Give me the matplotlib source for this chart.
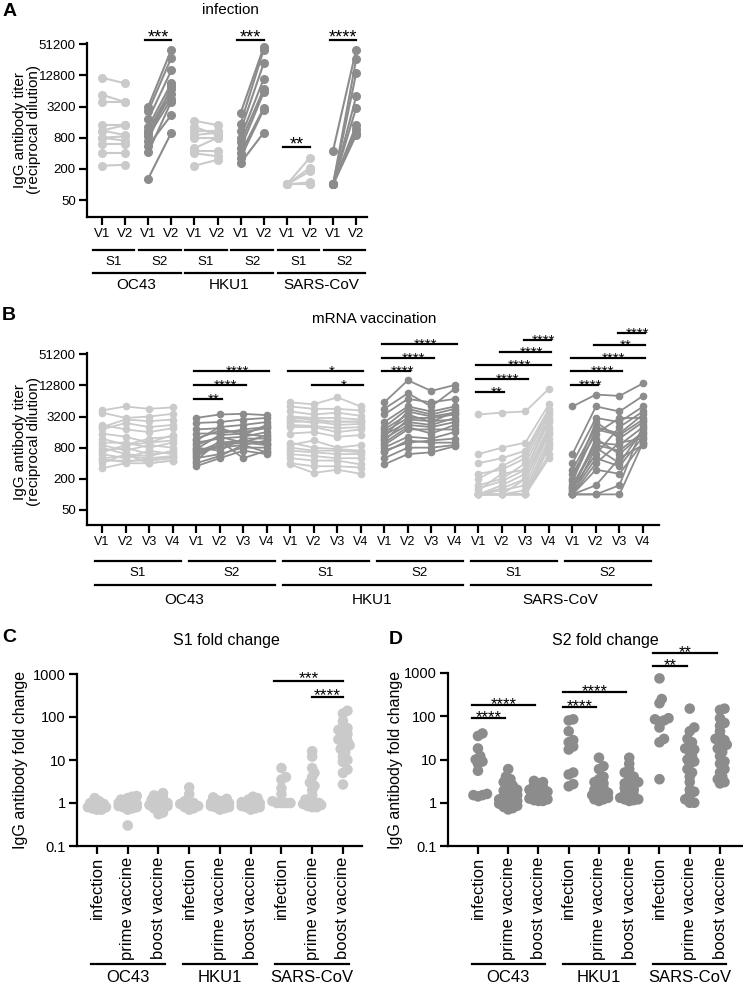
import numpy as np
import matplotlib
matplotlib.use("Agg")
import matplotlib.pyplot as plt
from matplotlib.ticker import NullLocator

plt.rcParams['font.family'] = ['Liberation Sans', 'DejaVu Sans']

LIGHT = '#cacaca'
DARK = '#8c8c8c'

# ---------------- data: panel A (infection, V1 -> V2) ----------------
A_oc43_s1_v1 = [11500, 5400, 4000, 1400, 1100, 1100, 800, 800, 600, 400, 230]
A_oc43_s1_v2 = [9000, 3900, 4000, 1400, 1400, 900, 850, 700, 600, 400, 240]
A_oc43_s2_v1 = [3200, 2600, 1800, 1300, 1100, 1000, 850, 700, 560, 420, 130]
A_oc43_s2_v2 = [40000, 28000, 16000, 9000, 7000, 5500, 4500, 8000, 2200, 4000, 1000]
A_hku1_s1_v1 = [1700, 1300, 1100, 900, 800, 500, 450, 400, 230]
A_hku1_s1_v2 = [1400, 900, 1100, 1000, 800, 800, 450, 350, 300]
A_hku1_s2_v1 = [2400, 1500, 1100, 800, 650, 500, 400, 330, 260]
A_hku1_s2_v2 = [45000, 40000, 22000, 11000, 7000, 6000, 3000, 2800, 1000]
A_sars_s1_v1 = [100, 100, 100, 100, 100, 100]
A_sars_s1_v2 = [330, 210, 180, 110, 100, 100]
A_sars_s2_v1 = [450, 100, 100, 100, 100, 100, 100, 100, 100]
A_sars_s2_v2 = [40000, 26000, 14000, 5000, 3000, 1400, 1200, 1000, 900]

# ---------------- data: panel B (mRNA vaccination, V1..V4) ----------------
B_oc43_s1 = [[4200, 3800, 2000, 1800, 1500, 1200, 1000, 900, 800, 700, 600, 500, 450, 400, 320, 2200, 650, 480],
             [5000, 3000, 2800, 2400, 1300, 900, 1000, 700, 600, 800, 500, 550, 450, 600, 400, 1800, 900, 420],
             [4500, 3200, 2600, 2000, 1000, 1200, 800, 900, 550, 600, 700, 500, 450, 400, 400, 1600, 1000, 500],
             [4800, 3600, 2800, 2200, 1400, 1300, 1000, 800, 700, 650, 600, 550, 500, 450, 450, 1900, 1100, 520]]
B_oc43_s2 = [[3000, 2400, 1800, 1500, 1200, 1000, 900, 800, 700, 650, 600, 500, 450, 400, 350, 1100, 750, 550],
             [3500, 2500, 1900, 1500, 1700, 1200, 1300, 700, 800, 1000, 900, 600, 1100, 550, 500, 2000, 1400, 900],
             [3600, 2800, 1400, 1800, 1600, 1300, 1000, 1200, 900, 1100, 1000, 800, 500, 900, 700, 2200, 1500, 1100],
             [3400, 3000, 2200, 2000, 1900, 1600, 1400, 1200, 1100, 1000, 900, 800, 700, 650, 600, 2500, 1300, 950]]
B_hku1_s1 = [[6000, 5000, 4000, 3200, 3000, 2500, 2000, 1500, 900, 800, 700, 600, 500, 400, 380, 2800, 2200, 1000],
             [5500, 4500, 3500, 3000, 2800, 2600, 2000, 1600, 1100, 700, 650, 550, 450, 350, 260, 2400, 2100, 800],
             [7500, 4500, 3800, 3000, 2500, 2200, 1600, 1300, 800, 700, 600, 500, 450, 350, 300, 2600, 1900, 750],
             [5000, 4200, 3300, 2800, 2600, 2300, 1800, 1400, 900, 650, 600, 500, 380, 330, 250, 2500, 2000, 700]]
B_hku1_s2 = [[6000, 4500, 3500, 2500, 2000, 1800, 1600, 1400, 1200, 1000, 900, 800, 700, 500, 380, 1300, 1100, 650],
             [16000, 9000, 7000, 5000, 4500, 3500, 3000, 2500, 2200, 2000, 1800, 1300, 1000, 800, 600, 4000, 2800, 1100],
             [10000, 5000, 6000, 4000, 3500, 2500, 3000, 2200, 2000, 1500, 1800, 1200, 1100, 800, 650, 3200, 2600, 1000],
             [13000, 11000, 7000, 5000, 4500, 4000, 3500, 3000, 2500, 2200, 1800, 1600, 1200, 900, 850, 3800, 2800, 1000]]
B_sars_s1 = [[3500, 600, 400, 250, 150, 120, 100, 100, 100, 100, 100, 100, 100, 100, 100, 200, 130, 100],
             [3800, 800, 500, 300, 200, 250, 150, 100, 120, 100, 100, 100, 100, 100, 100, 350, 180, 130],
             [4000, 1000, 700, 500, 400, 300, 250, 200, 150, 120, 100, 100, 100, 100, 100, 600, 300, 200],
             [11000, 5500, 4500, 3500, 3000, 2500, 2000, 1800, 1500, 1200, 1000, 900, 800, 600, 500, 4000, 2800, 1600]]
B_sars_s2 = [[5000, 600, 400, 300, 250, 200, 150, 130, 120, 100, 100, 100, 100, 100, 100, 180, 140, 110],
             [8500, 5000, 3000, 2000, 1500, 2500, 1000, 600, 1200, 400, 800, 300, 150, 100, 100, 1800, 900, 500],
             [8000, 4000, 2500, 1500, 3000, 1200, 900, 2000, 600, 1000, 400, 250, 500, 150, 100, 1400, 700, 350],
             [14000, 8000, 5000, 3500, 3000, 2500, 2000, 4000, 1500, 1200, 1800, 1000, 900, 2200, 1000, 2800, 1600, 1300]]

# ---------------- data: panels C / D (fold change) ----------------
C_vals = [
    [1.3, 1.1, 1.0, 0.95, 0.9, 0.85, 0.8, 0.8, 0.75, 0.7, 0.7],
    [1.45, 1.4, 1.3, 1.2, 1.1, 1.05, 1.0, 1.0, 0.95, 0.95, 0.9, 0.9, 0.85, 0.8, 0.8, 0.75, 0.7, 0.3],
    [1.7, 1.5, 1.4, 1.3, 1.2, 1.1, 1.0, 1.0, 0.95, 0.9, 0.9, 0.85, 0.8, 0.75, 0.7, 0.6, 0.55],
    [2.3, 1.6, 1.1, 1.0, 0.95, 0.9, 0.85, 0.8, 0.75, 0.7],
    [1.35, 1.25, 1.15, 1.1, 1.0, 1.0, 0.95, 0.9, 0.9, 0.85, 0.8, 0.8, 0.75, 0.7],
    [1.4, 1.3, 1.2, 1.1, 1.05, 1.0, 0.95, 0.9, 0.9, 0.85, 0.8, 0.8, 0.75, 0.7],
    [6.5, 4.0, 3.5, 2.2, 1.6, 1.1, 1.0, 1.0, 1.0, 1.0],
    [16, 12, 6.5, 5, 4, 3, 2.5, 2, 1.5, 1.2, 1.0, 1.0, 1.0, 0.95, 0.9, 0.85, 0.8, 0.8],
    [140, 120, 80, 60, 55, 50, 45, 40, 35, 30, 28, 25, 22, 20, 18, 15, 12, 10, 9, 6, 5, 2.7],
]
D_vals = [
    [40, 35, 18, 12, 10, 9, 8, 5.5, 1.6, 1.5, 1.5, 1.4],
    [6, 4, 3.5, 3, 2.8, 2.5, 2.2, 2.0, 1.9, 1.8, 1.6, 1.5, 1.4, 1.3, 1.2, 1.2, 1.1, 1.0, 1.0,
     0.95, 0.9, 0.85, 0.8, 0.75, 0.7],
    [3.2, 3.0, 2.8, 2.5, 2.3, 2.1, 2.0, 1.9, 1.8, 1.7, 1.6, 1.5, 1.4, 1.35, 1.3, 1.25, 1.2,
     1.15, 1.1, 1.1],
    [85, 80, 45, 28, 25, 20, 17, 5, 4.5, 2.7, 2.4],
    [11, 7, 6, 4, 3.5, 3, 2.8, 2.5, 2.2, 2, 1.8, 1.7, 1.6, 1.5, 1.4, 1.3, 1.2, 1.2, 1.1],
    [11, 8, 6, 5, 4.5, 4, 3.5, 3, 2.8, 2.6, 2.4, 2.2, 2, 1.8, 1.6, 1.5, 1.4, 1.3, 1.2, 1.2,
     1.15, 1.1],
    [750, 250, 200, 90, 85, 80, 75, 55, 30, 25, 3.5],
    [150, 55, 45, 30, 25, 20, 18, 17, 15, 12, 10, 9, 8, 6, 5, 4, 3, 2, 1.8, 1.5, 1.2, 1.0, 1.0],
    [150, 140, 90, 70, 60, 45, 35, 30, 28, 25, 22, 20, 18, 15, 12, 9, 8, 6, 5, 4, 3.5, 3, 2.8],
]

viruses = ['OC43', 'HKU1', 'SARS-CoV']
subunits = ['S1', 'S2']
fold_cats = ['infection', 'prime vaccine', 'boost vaccine']

W, H = 743, 990
fig = plt.figure(figsize=(W / 100, H / 100), dpi=100)


def px_axes(left, top, right, bottom):
    return fig.add_axes([left / W, 1 - bottom / H, (right - left) / W, (bottom - top) / H])


def style(ax, lw=1.6):
    for s in ['top', 'right']:
        ax.spines[s].set_visible(False)
    for s in ['left', 'bottom']:
        ax.spines[s].set_linewidth(lw)
    ax.tick_params(width=lw, length=6, direction='out', pad=2)
    ax.set_yscale('log')
    ax.yaxis.set_minor_locator(NullLocator())


def under_line(ax, x0, x1, dy):
    h = ax.get_position().height * H
    ax.plot([x0, x1], [-dy / h, -dy / h], color='black', lw=1.6,
            transform=ax.get_xaxis_transform(), clip_on=False)


def under_text(ax, x, dy, s, size):
    h = ax.get_position().height * H
    ax.text(x, -dy / h, s, ha='center', va='center', fontsize=size,
            transform=ax.get_xaxis_transform())


def sig(ax, x0, x1, y, label, size=12, off=-2.5, shift=0.0):
    ax.plot([x0, x1], [y, y], color='black', lw=1.6, clip_on=False)
    ax.annotate(label, xy=((x0 + x1) / 2 + shift, y), xytext=(0, off),
                textcoords='offset points', ha='center', va='baseline',
                fontsize=size, annotation_clip=False)


def swarm_x(ax, xc, vals, gap, cap):
    # compact beeswarm: dots may overlap, spread is limited to +-cap pixels
    pts = ax.transData.transform(np.column_stack([np.full(len(vals), xc), vals]))
    order = np.argsort(vals)
    placed = []
    xs = np.zeros(len(vals))
    step = gap / 2.0
    cands = [0.0]
    k = 1
    while k * step <= cap:
        cands += [k * step, -k * step]
        k += 1
    for i in order:
        px, py = pts[i]
        best, best_d = 0.0, -1
        for dx in cands:
            d = min([np.hypot(px + dx - qx, py - qy) for qx, qy in placed] + [1e9])
            if d >= gap:
                best = dx
                break
            if d > best_d:
                best, best_d = dx, d
        placed.append((px + best, py))
        xs[i] = ax.transData.inverted().transform((px + best, py))[0]
    return xs


# ================= panel A =================
axA = px_axes(87, 43, 367, 217)
style(axA)
axA.set_xlim(-0.65, 11.47)
axA.set_ylim(23.5, 54000)
ytA = [50, 200, 800, 3200, 12800, 51200]
axA.set_yticks(ytA)
axA.set_yticklabels([str(v) for v in ytA], fontsize=9.5)
axA.set_xticks(range(12))
axA.set_xticklabels(['V1', 'V2'] * 6, fontsize=9.5)

A_pairs = [(A_oc43_s1_v1, A_oc43_s1_v2, LIGHT), (A_oc43_s2_v1, A_oc43_s2_v2, DARK),
           (A_hku1_s1_v1, A_hku1_s1_v2, LIGHT), (A_hku1_s2_v1, A_hku1_s2_v2, DARK),
           (A_sars_s1_v1, A_sars_s1_v2, LIGHT), (A_sars_s2_v1, A_sars_s2_v2, DARK)]
for g, (v1, v2, c) in enumerate(A_pairs):
    axA.plot([2 * g, 2 * g + 1], np.array([v1, v2]), '-o', color=c, lw=1.5, ms=5.5,
             clip_on=False, zorder=3)

for g in range(6):
    under_line(axA, 2 * g - 0.4, 2 * g + 1.4, 33)
    under_text(axA, 2 * g + 0.5, 45, subunits[g % 2], 9.5)
for v in range(3):
    under_line(axA, 4 * v - 0.4, 4 * v + 3.4, 56)
    under_text(axA, 4 * v + 1.5, 68, viruses[v], 11)

sig(axA, 1.85, 3, 61000, '***', 13, -1.5)
sig(axA, 5.85, 7, 61000, '***', 13, -1.5)
sig(axA, 7.85, 9, 520, '**', 13, -1.5)
sig(axA, 9.85, 11, 61000, '****', 13, -1.5)

fig.text(10 / W, 1 - 12 / H, 'A', fontsize=14, fontweight='bold', ha='center', va='center')
fig.text(230 / W, 1 - 10 / H, 'infection', fontsize=11, ha='center', va='center')
fig.text(27 / W, 1 - 130 / H, 'IgG antibody titer\n(reciprocal dilution)', rotation=90,
         fontsize=11, ha='center', va='center', linespacing=1.05)

# ================= panel B =================
axB = px_axes(87, 353, 659, 525)
style(axB)
axB.set_xlim(-0.64, 23.68)
axB.set_ylim(25.6, 54000)
axB.set_yticks(ytA)
axB.set_yticklabels([str(v) for v in ytA], fontsize=9.5)
axB.set_xticks(range(24))
axB.set_xticklabels(['V1', 'V2', 'V3', 'V4'] * 6, fontsize=9)

B_groups = [(B_oc43_s1, LIGHT), (B_oc43_s2, DARK), (B_hku1_s1, LIGHT),
            (B_hku1_s2, DARK), (B_sars_s1, LIGHT), (B_sars_s2, DARK)]
for g, (vals, c) in enumerate(B_groups):
    axB.plot(np.arange(4) + 4 * g, np.array(vals), '-o', color=c, lw=1.3, ms=4.5,
             clip_on=False, zorder=3)

for g in range(6):
    under_line(axB, 4 * g - 0.32, 4 * g + 3.35, 36)
    under_text(axB, 4 * g + 1.5, 48, subunits[g % 2], 9.5)
for v in range(3):
    under_line(axB, 8 * v - 0.32, 8 * v + 7.35, 60)
    under_text(axB, 8 * v + 3.5, 75, viruses[v], 11)

# significance bars for panel B: (first visit index, last visit index, height, label)
B_sig = [
    (4, 5, 7000, '**'), (4, 6, 12800, '****'), (4, 7, 24000, '****'),
    (8, 11, 24000, '*'), (9, 11, 13000, '*'),
    (12, 13, 24000, '****'), (12, 14, 43000, '****'), (12, 15, 79000, '****'),
    (16, 17, 9500, '**'), (16, 18, 17000, '****'), (16, 19, 31000, '****'),
    (17, 19, 56000, '****'), (18, 19, 95000, '****'),
    (20, 21, 12800, '****'), (20, 22, 24000, '****'), (20, 23, 43000, '****'),
    (21, 23, 76000, '**'), (22, 23, 130000, '****'),
]
for a, b, y, lab in B_sig:
    sig(axB, a - 0.08, b + 0.1, y, lab, 11, -3.2, 0.25)

fig.text(9 / W, 1 - 316 / H, 'B', fontsize=14, fontweight='bold', ha='center', va='center')
fig.text(374 / W, 1 - 319 / H, 'mRNA vaccination', fontsize=11, ha='center', va='center')
fig.text(27 / W, 1 - 442 / H, 'IgG antibody titer\n(reciprocal dilution)', rotation=90,
         fontsize=11, ha='center', va='center', linespacing=1.05)


# ================= panels C and D =================
def fold_panel(ax, vals, color, xl):
    style(ax)
    ax.set_xlim(*xl)
    ax.set_ylim(0.1, 1000)
    yt = [0.1, 1, 10, 100, 1000]
    ax.set_yticks(yt)
    ax.set_yticklabels(['0.1', '1', '10', '100', '1000'], fontsize=10.5)
    ax.set_xticks(range(9))
    ax.set_xticklabels(fold_cats * 3, rotation=90, fontsize=12, va='top')
    for i, v in enumerate(vals):
        xs = swarm_x(ax, i, v, 4.5, 9)
        ax.scatter(xs, v, s=58, color=color, edgecolors='none', zorder=3, clip_on=False)
    for g in range(3):
        under_line(ax, 3 * g - 0.2, 3 * g + 2.2, 118)
        under_text(ax, 3 * g + 1, 132, viruses[g], 12)
    ax.set_ylabel('IgG antibody fold change', fontsize=11.5)


axC = px_axes(77, 674, 362, 846)
fold_panel(axC, C_vals, LIGHT, (-0.65, 8.62))
axC.yaxis.set_label_coords(-49 / 285, 0.5)
sig(axC, 5.75, 8, 700, '***', 12.5, -2)
sig(axC, 7.0, 8, 290, '****', 12.5, -2)
fig.text(9 / W, 1 - 638 / H, 'C', fontsize=14, fontweight='bold', ha='center', va='center')
fig.text(226 / W, 1 - 641 / H, 'S1 fold change', fontsize=11.5, ha='center', va='center')

axD = px_axes(448, 673, 743, 846)
fold_panel(axD, D_vals, DARK, (-0.99, 8.76))
axD.yaxis.set_label_coords(-45 / 295, 0.5)
D_sig = [(0, 1, 92, '****'), (0, 2, 186, '****'), (3, 4, 165, '****'), (3, 5, 360, '****'),
         (6, 7, 1440, '**'), (6, 8, 2950, '**')]
for a, b, y, lab in D_sig:
    sig(axD, a - 0.2, b - 0.1, y, lab, 12, -3)
fig.text(396 / W, 1 - 640 / H, 'D', fontsize=14, fontweight='bold', ha='center', va='center')
fig.text(605 / W, 1 - 641 / H, 'S2 fold change', fontsize=11.5, ha='center', va='center')

fig.savefig('out.png', dpi=100)
